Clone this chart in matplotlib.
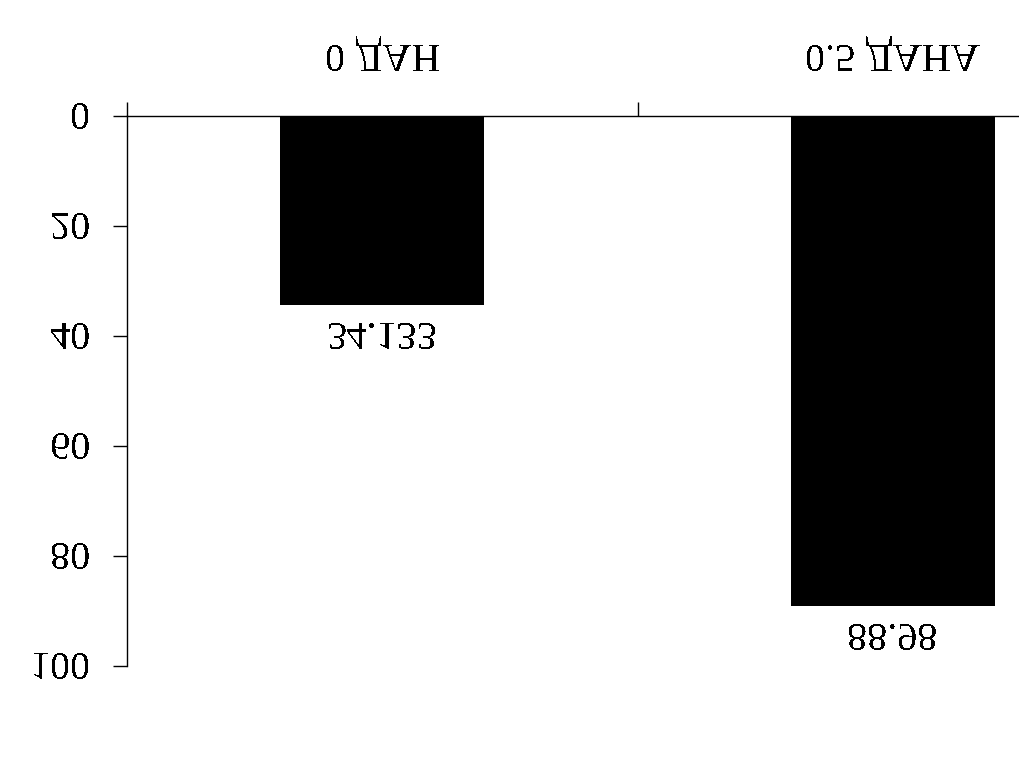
import matplotlib
matplotlib.use('Agg')
import matplotlib.pyplot as plt
from matplotlib.ticker import NullFormatter
import numpy as np

categories = ['0 ДАН', '0.5 ДАНА']
values = [34.133, 88.98]
value_labels = ['34.133', '88.98']
y_ticks = [0, 20, 40, 60, 80, 100]

plt.rcParams['font.family'] = ['Liberation Serif', 'DejaVu Serif']
plt.rcParams['text.antialiased'] = False

W, H = 1019, 758
fig = plt.figure(figsize=(W / 100, H / 100), dpi=100)
ax = fig.add_axes([127 / W, 117.3 / H, 1021 / W, (666.7 - 117.3) / H])

x = np.arange(len(categories))
ax.bar(x, values, width=0.4, color='black')
ax.set_xlim(-0.5, len(categories) - 0.5)
ax.set_ylim(0, 100)
ax.set_yticks(y_ticks)

# category boundary ticks (major) and category labels (minor)
ax.set_xticks(np.arange(-0.5, len(categories)))
ax.xaxis.set_major_formatter(NullFormatter())
ax.set_xticks(x, labels=categories, minor=True)
ax.tick_params(axis='x', which='major', direction='out', length=10, width=1)
ax.tick_params(axis='x', which='minor', length=0, pad=32, labelsize=29)
ax.tick_params(axis='y', direction='out', length=10, width=1, pad=16.5, labelsize=29)
for s in ['top', 'right']:
    ax.spines[s].set_visible(False)
for s in ['left', 'bottom']:
    ax.spines[s].set_linewidth(1)

for lab, v, xi in zip(value_labels, values, x):
    ax.annotate(lab, (xi, v), xytext=(0, 13), textcoords='offset points',
                ha='center', va='baseline', fontsize=29)

# the reference is rendered upside down (vertically mirrored)
fig.canvas.draw()
img = np.asarray(fig.canvas.buffer_rgba())[::-1]
plt.imsave('out.png', img)
